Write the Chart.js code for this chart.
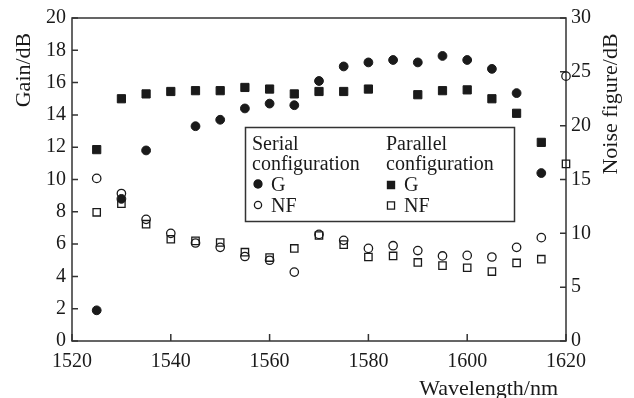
<!DOCTYPE html>
<html>
<head>
<meta charset="utf-8">
<script src="https://cdn.jsdelivr.net/npm/chart.js@4.4.1/dist/chart.umd.min.js"></script>
<style>
  html, body { margin: 0; padding: 0; background: #fff; }
</style>
</head>
<body>
<canvas id="chart" width="634" height="398"></canvas>
<script>
// Data (wavelength in nm, gain in dB, noise figure in dB)
const wavelength = [1525, 1530, 1535, 1540, 1545, 1550, 1555, 1560, 1565, 1570,
                    1575, 1580, 1585, 1590, 1595, 1600, 1605, 1610, 1615, 1620];
const serialGain   = [1.9, 8.8, 11.8, null, 13.3, 13.7, 14.4, 14.7, 14.6, 16.1,
                      17.0, 17.25, 17.4, 17.25, 17.65, 17.4, 16.85, 15.35, 10.4, null];
const parallelGain = [11.85, 15.0, 15.3, 15.45, 15.5, 15.5, 15.7, 15.6, 15.3, 15.45,
                      15.45, 15.6, null, 15.25, 15.5, 15.55, 15.0, 14.1, 12.3, null];
const serialNF     = [15.1, 13.7, 11.3, 10.0, 9.1, 8.7, 7.85, 7.5, 6.4, 9.9,
                      9.35, 8.6, 8.85, 8.4, 7.9, 7.95, 7.8, 8.7, 9.6, 24.6];
const parallelNF   = [11.95, 12.75, 10.85, 9.45, 9.3, 9.15, 8.25, 7.75, 8.6, 9.8,
                      8.95, 7.8, 7.9, 7.3, 7.0, 6.8, 6.45, 7.25, 7.6, 16.45];

const xTicks = [1520, 1540, 1560, 1580, 1600, 1620];
const gainTicks = [0, 2, 4, 6, 8, 10, 12, 14, 16, 18, 20];
const nfTicks = [0, 5, 10, 15, 20, 25, 30];

const INK = '#1a1a1a';
const FONT = 'Liberation Serif';

function pts(values) {
    // pair each value with its wavelength, skip gaps
    return wavelength.map((w, i) => ({ x: w, y: values[i] })).filter(p => p.y !== null);
}

const tickFont = { family: FONT, size: 20 };

// inward ticks + closed frame
const framePlugin = {
    id: 'frame',
    beforeDatasetsDraw(chart) {
        const { ctx, chartArea: a, scales } = chart;
        ctx.save();
        ctx.strokeStyle = '#333';
        ctx.lineWidth = 1.5;
        ctx.strokeRect(a.left, a.top, a.right - a.left, a.bottom - a.top);
        ctx.beginPath();
        xTicks.forEach(v => {
            const px = scales.x.getPixelForValue(v);
            ctx.moveTo(px, a.bottom);
            ctx.lineTo(px, a.bottom - 7);
        });
        gainTicks.forEach(v => {
            const py = scales.y.getPixelForValue(v);
            ctx.moveTo(a.left, py);
            ctx.lineTo(a.left + 6, py);
        });
        nfTicks.forEach(v => {
            const py = scales.y1.getPixelForValue(v);
            ctx.moveTo(a.right, py);
            ctx.lineTo(a.right - 6, py);
        });
        ctx.stroke();
        ctx.restore();
    }
};

// axis titles and the two-column legend box
const annotatePlugin = {
    id: 'annotate',
    afterDraw(chart) {
        const ctx = chart.ctx;
        ctx.save();
        ctx.fillStyle = INK;
        ctx.font = '22px "' + FONT + '"';
        ctx.textBaseline = 'alphabetic';

        ctx.textAlign = 'right';
        ctx.fillText('Wavelength/nm', 558, 395);

        ctx.textAlign = 'center';
        ctx.save();
        ctx.translate(30, 70);
        ctx.rotate(-Math.PI / 2);
        ctx.fillText('Gain/dB', 0, 0);
        ctx.restore();

        ctx.save();
        ctx.translate(617, 104);
        ctx.rotate(-Math.PI / 2);
        ctx.fillText('Noise figure/dB', 0, 0);
        ctx.restore();

        // legend
        ctx.fillStyle = '#fff';
        ctx.fillRect(245.5, 127.5, 269, 94);
        ctx.strokeStyle = '#333';
        ctx.lineWidth = 1.5;
        ctx.strokeRect(245.5, 127.5, 269, 94);

        ctx.fillStyle = INK;
        ctx.textAlign = 'left';
        ctx.font = '20px "' + FONT + '"';
        ctx.fillText('Serial', 252, 150);
        ctx.fillText('configuration', 252, 170);
        ctx.fillText('G', 271, 191);
        ctx.fillText('NF', 271, 212);
        ctx.fillText('Parallel', 386, 150);
        ctx.fillText('configuration', 386, 170);
        ctx.fillText('G', 404, 191);
        ctx.fillText('NF', 404, 212);

        const mk = (style, r, fill, x, y) => {
            Chart.helpers.drawPoint(ctx, {
                pointStyle: style, radius: r, borderWidth: 1.3, rotation: 0
            }, x, y);
        };
        ctx.strokeStyle = INK;
        ctx.fillStyle = INK;
        ctx.lineWidth = 1.3;
        Chart.helpers.drawPoint(ctx, { pointStyle: 'circle', radius: 4, borderWidth: 1 }, 258, 184);
        ctx.fill();
        Chart.helpers.drawPoint(ctx, { pointStyle: 'rect', radius: 5, borderWidth: 1 }, 391, 185);
        ctx.fill();
        ctx.fillStyle = 'rgba(0,0,0,0)';
        ctx.lineWidth = 1.3;
        Chart.helpers.drawPoint(ctx, { pointStyle: 'circle', radius: 3.6, borderWidth: 1.3 }, 258, 205);
        Chart.helpers.drawPoint(ctx, { pointStyle: 'rect', radius: 5, borderWidth: 1.3 }, 391, 205.5);
        ctx.restore();
    }
};

new Chart(document.getElementById('chart'), {
    type: 'scatter',
    data: {
        datasets: [
            {
                label: 'Serial G', data: pts(serialGain), yAxisID: 'y',
                pointStyle: 'circle', pointRadius: 4.4,
                backgroundColor: INK, borderColor: INK, borderWidth: 1
            },
            {
                label: 'Parallel G', data: pts(parallelGain), yAxisID: 'y',
                pointStyle: 'rect', pointRadius: 5.8,
                backgroundColor: INK, borderColor: INK, borderWidth: 1
            },
            {
                label: 'Serial NF', data: pts(serialNF), yAxisID: 'y1',
                pointStyle: 'circle', pointRadius: 4.2,
                backgroundColor: 'rgba(0,0,0,0)', borderColor: INK, borderWidth: 1.3
            },
            {
                label: 'Parallel NF', data: pts(parallelNF), yAxisID: 'y1',
                pointStyle: 'rect', pointRadius: 5.2,
                backgroundColor: 'rgba(0,0,0,0)', borderColor: INK, borderWidth: 1.3
            }
        ]
    },
    options: {
        responsive: false,
        animation: false,
        devicePixelRatio: 1,
        events: [],
        clip: false,
        layout: { padding: { top: 18, left: 0, right: 0, bottom: 0 } },
        plugins: {
            legend: { display: false },
            tooltip: { enabled: false }
        },
        scales: {
            x: {
                type: 'linear', min: 1520, max: 1620,
                grid: { display: false, drawTicks: false },
                border: { display: false },
                ticks: { stepSize: 20, padding: 9, color: INK, font: tickFont,
                         callback: v => String(v) },
                afterFit: s => { s.height = 57; }
            },
            y: {
                position: 'left', min: 0, max: 20,
                grid: { display: false, drawTicks: false },
                border: { display: false },
                ticks: { stepSize: 2, padding: 6, color: INK, font: tickFont },
                afterFit: s => { s.width = 72; }
            },
            y1: {
                position: 'right', min: 0, max: 30,
                grid: { display: false, drawTicks: false },
                border: { display: false },
                ticks: { stepSize: 5, padding: 5, color: INK, font: tickFont },
                afterFit: s => { s.width = 68; }
            }
        }
    },
    plugins: [framePlugin, annotatePlugin]
});
</script>
</body>
</html>
